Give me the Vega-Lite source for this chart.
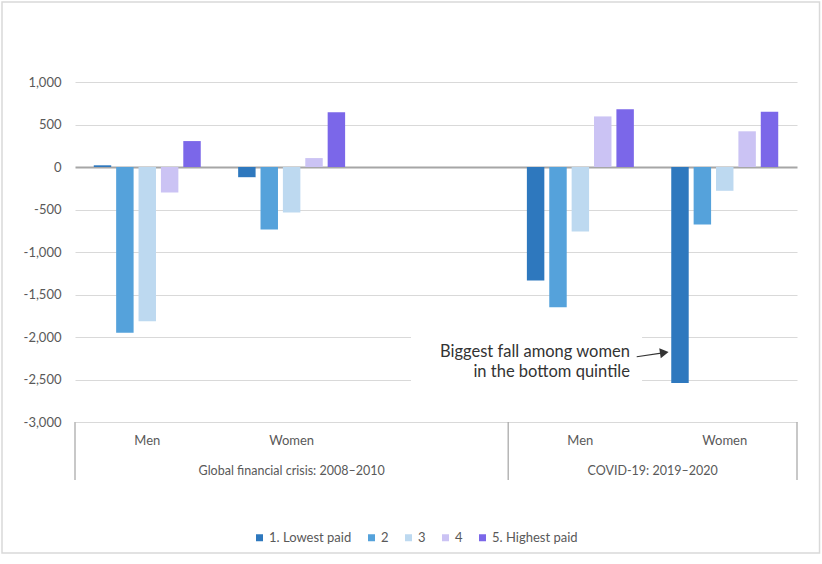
{
  "$schema": "https://vega.github.io/schema/vega-lite/v6.json",
  "width": 722,
  "height": 340,
  "autosize": {"type": "none"},
  "padding": {"left": 75, "top": 82, "right": 25, "bottom": 142},
  "background": "white",
  "config": {"font": "Lato", "view": {"stroke": null}},
  "datasets": {
    "bars": [
      {"slot": "GFC Men", "quintile": "1. Lowest paid", "value": 20},
      {"slot": "GFC Men", "quintile": "2", "value": -1950},
      {"slot": "GFC Men", "quintile": "3", "value": -1815},
      {"slot": "GFC Men", "quintile": "4", "value": -300},
      {"slot": "GFC Men", "quintile": "5. Highest paid", "value": 305},
      {"slot": "GFC Women", "quintile": "1. Lowest paid", "value": -120},
      {"slot": "GFC Women", "quintile": "2", "value": -735},
      {"slot": "GFC Women", "quintile": "3", "value": -535},
      {"slot": "GFC Women", "quintile": "4", "value": 105},
      {"slot": "GFC Women", "quintile": "5. Highest paid", "value": 645},
      {"slot": "COVID Men", "quintile": "1. Lowest paid", "value": -1335},
      {"slot": "COVID Men", "quintile": "2", "value": -1650},
      {"slot": "COVID Men", "quintile": "3", "value": -760},
      {"slot": "COVID Men", "quintile": "4", "value": 595},
      {"slot": "COVID Men", "quintile": "5. Highest paid", "value": 680},
      {"slot": "COVID Women", "quintile": "1. Lowest paid", "value": -2540},
      {"slot": "COVID Women", "quintile": "2", "value": -675},
      {"slot": "COVID Women", "quintile": "3", "value": -280},
      {"slot": "COVID Women", "quintile": "4", "value": 420},
      {"slot": "COVID Women", "quintile": "5. Highest paid", "value": 650}
    ],
    "groups": [
      {"x": 1.5, "y": -3576, "label": "Global financial crisis: 2008\u20132010"},
      {"x": 4.0, "y": -3576, "label": "COVID-19: 2019\u20132020"}
    ],
    "seps": [
      {"x": 0, "y": -3000, "y2": -3682},
      {"x": 3, "y": -3000, "y2": -3682},
      {"x": 5, "y": -3000, "y2": -3682}
    ],
    "note": [
      {"x": 3.843, "y": -2232, "label": "Biggest fall among women"},
      {"x": 3.843, "y": -2467, "label": "in the bottom quintile"}
    ],
    "arrow": [
      {"x": 3.89, "y": -2232},
      {"x": 4.06, "y": -2190}
    ],
    "head": [
      {"x": 4.081, "y": -2184}
    ],
    "box": [
      {"x": 2.327, "x2": 3.927, "y": -1900, "y2": -2700}
    ],
    "frame": [
      {"x": -0.5055, "x2": 5.156, "y": 1941, "y2": -4541}
    ]
  },
  "layer": [
    {
      "data": {"name": "bars"},
      "mark": {"type": "bar"},
      "encoding": {
        "x": {
          "field": "slot", "type": "nominal", "sort": null,
          "scale": {"domain": ["GFC Men", "GFC Women", "GFC gap", "COVID Men", "COVID Women"], "paddingInner": 0.259, "paddingOuter": 0.13},
          "axis": {
            "title": null, "labelAngle": 0, "ticks": false, "tickSize": 0, "domain": false,
            "labelPadding": 12, "labelFontSize": 13, "labelColor": "#595959",
            "labelExpr": "datum.value === 'GFC gap' ? '' : replace(replace(datum.value, 'GFC ', ''), 'COVID ', '')"
          }
        },
        "xOffset": {"field": "quintile", "type": "nominal", "scale": {"paddingInner": 0.22, "paddingOuter": 0}},
        "y": {
          "field": "value", "type": "quantitative",
          "scale": {"domain": [-3000, 1000], "nice": false},
          "axis": {
            "title": null, "values": [1000, 500, 0, -500, -1000, -1500, -2000, -2500, -3000],
            "labelExpr": "replace(format(datum.value, ','), '\u2212', '-')",
            "domain": false, "ticks": false, "labelPadding": 14, "labelFontSize": 13, "labelColor": "#595959",
            "gridColor": {"condition": {"test": "datum.value === 0", "value": "#A6A6A6"}, "value": "#D9D9D9"},
            "gridWidth": {"condition": {"test": "datum.value === 0", "value": 2}, "value": 1}
          }
        },
        "color": {
          "field": "quintile", "type": "nominal",
          "scale": {"domain": ["1. Lowest paid", "2", "3", "4", "5. Highest paid"], "range": ["#2E78BE", "#55A2DB", "#BDD9F0", "#CBC3F4", "#7B67E9"]},
          "legend": {
            "title": null, "orient": "none", "legendX": 178, "legendY": 449, "direction": "horizontal",
            "symbolType": "square", "symbolSize": 49, "symbolStrokeWidth": 0,
            "labelFontSize": 13, "labelColor": "#595959", "labelOffset": 3, "columnPadding": 13
          }
        }
      }
    },
    {
      "data": {"name": "box"},
      "mark": {"type": "rect", "fill": "white"},
      "encoding": {
        "x": {"field": "x", "type": "quantitative", "scale": {"domain": [0, 5], "nice": false, "zero": false}, "axis": null},
        "x2": {"field": "x2"},
        "y": {"field": "y", "type": "quantitative", "scale": {"domain": [-3000, 1000], "nice": false}, "axis": null},
        "y2": {"field": "y2"}
      }
    },
    {
      "data": {"name": "seps"},
      "mark": {"type": "rule", "color": "#ABABAB", "strokeWidth": 1.3},
      "encoding": {
        "x": {"field": "x", "type": "quantitative", "scale": {"domain": [0, 5], "nice": false, "zero": false}, "axis": null},
        "y": {"field": "y", "type": "quantitative", "scale": {"domain": [-3000, 1000], "nice": false}, "axis": null},
        "y2": {"field": "y2"}
      }
    },
    {
      "data": {"name": "groups"},
      "mark": {"type": "text", "fontSize": 12.5, "color": "#595959", "align": "center", "baseline": "middle"},
      "encoding": {
        "x": {"field": "x", "type": "quantitative", "scale": {"domain": [0, 5], "nice": false, "zero": false}, "axis": null},
        "y": {"field": "y", "type": "quantitative", "scale": {"domain": [-3000, 1000], "nice": false}, "axis": null},
        "text": {"field": "label"}
      }
    },
    {
      "data": {"name": "note"},
      "mark": {"type": "text", "fontSize": 16.5, "color": "#333333", "align": "right", "baseline": "alphabetic"},
      "encoding": {
        "x": {"field": "x", "type": "quantitative", "scale": {"domain": [0, 5], "nice": false, "zero": false}, "axis": null},
        "y": {"field": "y", "type": "quantitative", "scale": {"domain": [-3000, 1000], "nice": false}, "axis": null},
        "text": {"field": "label"}
      }
    },
    {
      "data": {"name": "arrow"},
      "mark": {"type": "line", "color": "#333333", "strokeWidth": 1.2},
      "encoding": {
        "x": {"field": "x", "type": "quantitative", "scale": {"domain": [0, 5], "nice": false, "zero": false}, "axis": null},
        "y": {"field": "y", "type": "quantitative", "scale": {"domain": [-3000, 1000], "nice": false}, "axis": null}
      }
    },
    {
      "data": {"name": "head"},
      "mark": {"type": "point", "shape": "triangle-right", "filled": true, "size": 100, "angle": -8.5, "color": "#333333", "opacity": 1},
      "encoding": {
        "x": {"field": "x", "type": "quantitative", "scale": {"domain": [0, 5], "nice": false, "zero": false}, "axis": null},
        "y": {"field": "y", "type": "quantitative", "scale": {"domain": [-3000, 1000], "nice": false}, "axis": null}
      }
    },
    {
      "data": {"name": "frame"},
      "mark": {"type": "rect", "fillOpacity": 0, "stroke": "#D9D9D9", "strokeWidth": 1.5},
      "encoding": {
        "x": {"field": "x", "type": "quantitative", "scale": {"domain": [0, 5], "nice": false, "zero": false}, "axis": null},
        "x2": {"field": "x2"},
        "y": {"field": "y", "type": "quantitative", "scale": {"domain": [-3000, 1000], "nice": false}, "axis": null},
        "y2": {"field": "y2"}
      }
    }
  ],
  "resolve": {"scale": {"x": "independent"}, "axis": {"x": "independent", "y": "independent"}}
}
